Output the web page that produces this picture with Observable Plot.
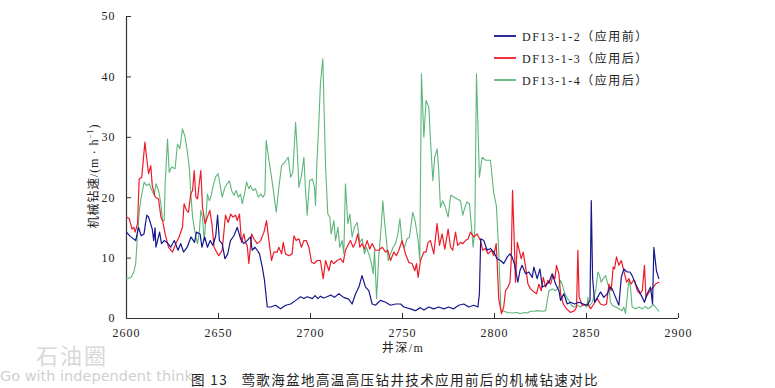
<!DOCTYPE html>
<html>
<head>
<meta charset="utf-8">
<script src="https://cdn.jsdelivr.net/npm/d3@7"></script>
<script src="https://cdn.jsdelivr.net/npm/@observablehq/plot@0.6"></script>
<style>
  html, body { margin: 0; padding: 0; background: #fff; }
  #wrap { position: relative; width: 775px; height: 388px; overflow: hidden; font-family: "Liberation Serif", serif; }
  #wrap svg { display: block; font-family: "Liberation Serif", serif !important; }
  #wrap svg text, #wrap svg g { font-family: "Liberation Serif", serif !important; }
  #wrap svg text { letter-spacing: 1px; fill: #222; }
  .ov { position: absolute; white-space: nowrap; }
  .leg { display: flex; align-items: center; }
</style>
</head>
<body>
<div id="wrap"></div>
<script>
// ---- Data ----
const xTicks = [2600, 2650, 2700, 2750, 2800, 2850, 2900];
const yTicks = [0, 10, 20, 30, 40, 50];
const seriesNames = ["DF13-1-2（应用前）", "DF13-1-3（应用后）", "DF13-1-4（应用后）"];
const seriesColors = ["#16168e", "#ec1c28", "#5cb67a"];

const blueDepth = [2600,2602,2605,2606.5,2608,2609.5,2611,2612,2614,2614.8,2615.5,2616,2618,2619,2620.5,2622,2624,2626,2628,2629.5,2631,2633,2635,2637,2638,2640,2641,2642.5,2644,2645.5,2647,2648.5,2649.5,2650.5,2652,2653.5,2655,2656.5,2658.4,2660.2,2662,2663.8,2665.6,2667.4,2668.3,2669.8,2671,2672.3,2673.8,2675,2676.5,2678.5,2681,2683.7,2686.5,2689.2,2692,2694.6,2696.4,2698.2,2701,2702.5,2704,2705.5,2707,2709,2711,2713,2715.4,2718,2720.8,2722.6,2724.5,2726.3,2728,2729.9,2731.7,2733.5,2735.3,2738,2740.8,2743.5,2746.2,2749,2750.7,2754.3,2757,2759.7,2761.6,2764.3,2767,2769.7,2772.4,2775.1,2777.8,2780.6,2783.3,2786,2788.7,2791,2791.8,2792.5,2794.2,2796,2797.8,2799.6,2801.4,2803.3,2805,2807,2808.4,2809.6,2811,2812.7,2813.8,2815,2816.9,2818.7,2820.5,2821.4,2823.2,2824.7,2826,2827.8,2829.6,2831.4,2833.2,2835,2835.9,2837.7,2839.5,2841.3,2843.5,2845.9,2848.2,2850.4,2851.9,2852.6,2853.3,2854.4,2856,2857.6,2859.4,2861.3,2862.7,2864,2865.8,2867.6,2868.9,2870.3,2872.1,2873.6,2874.8,2876.7,2878.5,2880.3,2881.5,2883,2884.8,2885.9,2886.6,2888,2889.3];
const blueRate = [14.3,13.6,12.9,15.1,13.7,14,17.1,16.8,14.8,12.9,15,11.8,14.3,12.4,12.9,12.6,11.8,12.9,11.3,12.4,11,11.8,13.5,12.6,14.3,14,11.8,13.5,11.8,12.9,12.1,13.7,17.1,12.9,12.4,9.9,10.7,12.9,13.7,15.1,13.2,12.4,12.9,13.5,11.3,11.8,11.3,10.7,8.5,6.3,1.9,1.9,2.2,1.6,2.2,2.4,3.0,3.6,3.3,3.6,3.3,3.8,3.3,3.7,3.4,3.6,3.9,3.5,4.1,3.5,3.2,2.4,4.1,5.2,7.1,5.2,4.6,2.4,2.2,3.0,2.7,2.2,2.4,2.4,1.9,1.6,1.3,1.8,1.4,1.9,1.6,1.9,1.6,1.9,1.6,2.2,2.4,1.9,2.2,1.9,4.1,13.2,12.9,11.3,11.6,11.0,9.9,9.6,9.1,10.2,10.7,10.2,8.8,6.0,7.9,8.8,7.4,7.7,6.8,8.5,6.6,8.2,5.2,5.5,6.0,7.4,5.7,4.6,3.0,4.1,2.4,2.7,2.4,2.7,2.4,2.2,3.0,19.5,6.8,2.7,3.5,4.4,3.5,4.1,5.2,4.9,3.5,2.2,6.8,8.2,7.7,7.7,7.1,5.7,4.6,3.5,2.7,4.1,5.2,2.4,11.8,7.9,6.6];

const redDepth = [2600,2601.5,2603,2604,2604.7,2606,2606.9,2608.3,2610,2610.9,2612,2613.2,2614,2615.6,2617.4,2618.7,2619.6,2621,2622.8,2625,2626.8,2628.6,2630.4,2631.3,2632.6,2633.7,2634.9,2635.9,2636.8,2637.7,2638.6,2639.5,2640.4,2641.3,2642.7,2644,2645.3,2646.4,2647.6,2649.5,2650.2,2652,2653.8,2655.3,2656.6,2657.8,2659.3,2660.2,2661.4,2662.5,2663.8,2664.7,2665.6,2666.5,2668,2669.2,2671,2672.9,2674.7,2676.1,2677.4,2678.8,2680.1,2681.9,2682.8,2684.3,2685.2,2686.4,2688.3,2690,2691,2692.2,2693.7,2695.1,2696.4,2697.7,2699.1,2700.6,2702,2703.6,2705.4,2706.9,2708.2,2710,2711.2,2712.7,2714.5,2716.3,2717.8,2719,2720.3,2721.7,2723.2,2724.5,2725.7,2726.8,2728.1,2729.3,2730.8,2732.2,2733.5,2735.3,2737.1,2739,2740.8,2742,2743.5,2745.3,2746.7,2748,2749.8,2751.6,2753.4,2755.2,2756.7,2757.6,2758.5,2759.8,2761.6,2762.8,2763.9,2765.2,2767,2768.8,2770.1,2771.5,2773,2774.8,2776.1,2777.3,2778.8,2780,2781.5,2782.8,2784.2,2785.7,2786.9,2788.7,2790.5,2792.4,2793.6,2795.1,2796.5,2798.4,2799.6,2800.9,2801.4,2802.3,2803.8,2805,2806,2807.3,2808.4,2809.1,2809.8,2810.5,2811.4,2812.4,2813.3,2814.5,2815.6,2816.9,2818.2,2819.6,2821.4,2822.9,2824.1,2825.4,2826.5,2827.8,2829,2830.5,2831.7,2832.8,2833.7,2835,2835.9,2837.4,2839.2,2841.3,2843.5,2844.6,2845.3,2846,2847.7,2849.5,2850.8,2852.2,2854,2855.8,2857.6,2859.4,2860.9,2862.2,2863.4,2864.5,2865.2,2866.3,2867.6,2868.9,2870.3,2871.8,2873,2874.3,2875.4,2876.1,2877.6,2879,2880.3,2881.5,2882.3,2883.4,2884.8,2886.3,2887.5,2889.3];
const redRate = [16.8,16.5,14.8,15.1,14.3,15.7,23.1,23.4,29.2,26.7,24,25.3,22,20.1,19.8,16.8,16.2,14,11.8,11,12.4,13.5,15.1,19,17.9,17.6,20.6,21.2,24.5,20.1,19.8,22.3,24.5,18.4,15.7,16.8,17.9,15.7,11.8,10.7,10.4,11.3,17.1,15.9,17.3,16.8,17.1,16.2,17.3,12.6,14,12.6,12.1,9.1,14,13.2,12.4,12.9,14.3,16.2,12.9,9.6,11,11,11.8,10.7,12.6,10.7,10.4,10.7,13.7,12.9,13.2,11.8,12.9,12.9,11.8,9.3,9.1,9.6,9.6,6.6,9.6,7.9,9.6,9.1,9.6,9.9,9.3,11.3,12.1,12.9,11.8,12.6,14,11.8,12.4,11.5,12.9,11.5,12.4,11.3,11.3,11.8,11,11.3,9.6,11,10.4,11.3,12.9,10.7,9.3,9.1,7.9,9.1,6.8,9.6,11,11,12.6,12.9,10.7,15.7,12.1,14,11.5,14.8,11.8,11.3,14.3,12.1,12.6,12.4,12.9,13.2,14.3,13.5,14,12.9,11.3,11.6,10.7,11.3,10.4,12.4,9.6,3.3,0.8,1.9,4.6,5.2,6,9.6,21.2,15.1,6,12.6,11.5,9.9,11,8.5,5.7,4.9,4.4,4.1,5.7,4.6,6.8,5.2,6.3,5.7,7.1,6.6,8.8,7.4,4.1,2.4,1.6,1.0,1.3,1.9,11.3,3.5,2.2,2.2,2.4,1.6,2.4,3.3,2.4,2.2,2.4,5.7,4.6,8.5,8.2,10.2,8.8,9.6,7.9,6,6.6,5.7,6.3,6.3,4.6,4.1,4.6,8.8,3.5,4.1,4.6,5.2,5.7,6];

const greenDepth = [2600,2602.4,2604,2605,2606,2607.2,2608.3,2609.6,2610.9,2612.3,2613.8,2615,2616,2617.4,2618.7,2619.6,2620.5,2621,2622.3,2623.2,2624.6,2626.4,2627.7,2629,2630.4,2631.9,2633.2,2634.1,2635,2635.9,2636.8,2637.7,2638.6,2639.5,2640.4,2641.3,2642.2,2643.1,2644,2645,2645.8,2647.1,2648.4,2649.8,2651.1,2652,2653.5,2654.7,2656,2657.1,2658.4,2659.6,2660.7,2662,2662.9,2664.3,2665.2,2666.5,2667.4,2668.7,2670.1,2671.6,2672.9,2674.1,2675.2,2675.9,2677.4,2678.8,2680.1,2681.4,2682.8,2684.3,2686.1,2687.9,2689.2,2690.4,2691.9,2692.8,2693.7,2695.1,2696.4,2697.3,2698.2,2699.5,2701,2702.2,2702.7,2703.6,2704.5,2705.4,2706.7,2707.6,2708.2,2709.4,2710.5,2711.2,2712.7,2713.6,2714.9,2715.9,2717.2,2718.1,2719,2720.3,2721.4,2722.6,2723.9,2725.4,2726.8,2728.1,2729.3,2730.4,2731.7,2733,2734.1,2734.8,2735.9,2737.1,2738.4,2739.3,2740.2,2741.3,2742.2,2743.5,2744.9,2746.2,2747.5,2748.6,2749.8,2751.1,2752.5,2753.8,2755.6,2757,2758.5,2759.4,2760.3,2761.6,2762.8,2764.3,2765.2,2766.5,2767.5,2768.8,2769.7,2770.6,2771.9,2773.3,2774.8,2776.2,2777.9,2779.7,2781.5,2782.8,2783.9,2785.1,2786.4,2787.5,2788.4,2789.3,2790.2,2791.8,2793.3,2795.1,2797.8,2799.6,2801,2802.2,2803.5,2805,2807,2809.6,2812.4,2814,2816,2817.8,2819.6,2821.4,2823.2,2826,2827.8,2828.7,2829.6,2831.4,2833.2,2835,2835.9,2836.8,2837.7,2839.2,2840.4,2841.7,2843.2,2845,2846.8,2848.6,2850.1,2850.8,2851.3,2853.1,2855,2856.2,2857.1,2858,2859.1,2860.4,2861.6,2862.2,2863,2864,2865.8,2867.6,2869.4,2870.3,2871.2,2872.1,2873,2873.9,2874.8,2876.7,2878.5,2880.3,2882.1,2883.4,2884.8,2886.3,2887.5,2889.3];
const greenRate = [6.6,6.8,7.7,9.1,14,18.4,20.6,22.6,22,22.3,21.2,20.4,22.3,21.2,19,16.2,16.2,22.3,29.7,24.2,25.1,24.8,28.9,28.1,31.4,30,27.3,25.1,20.6,16.8,15.1,13.5,12.4,14,17.9,16.8,12.9,16.2,20.6,19.5,20.1,22,23.4,24,21.7,20.1,21.7,22.3,22.8,21.2,20.4,21.2,20.1,20.6,19,20.9,22.6,21.5,22,21.2,21.5,20.1,20.6,20.1,20.6,29.5,26.2,23.4,20.6,17.6,21.7,25.3,25.9,26.7,23.4,24.2,32.5,27.8,21.7,23.7,26.7,21.2,17.1,22.8,23.1,21.7,18.7,26.7,32.2,38.9,43,32.2,25.1,17.3,16.8,14,16.2,12.9,15.1,11.8,12.9,10.7,22.3,15.7,17.3,13.5,15.1,15.9,12.6,13.2,10.7,11.8,10.7,9.3,7.4,11.3,3.3,10.2,15.1,19.5,16.2,12.9,9.6,10.7,11.8,12.4,14,16.5,12.4,11.8,13.2,13.5,17.6,15.9,12.9,9.6,40.5,30,36.1,35,29.5,22.8,26.7,28.1,24.5,18.4,19.5,18.4,16.8,20.4,20.1,19.8,19.5,17.1,18.4,19.3,19,15.1,11.8,14.6,40.5,23.4,26.7,26.2,26.2,20.7,18.7,11.8,1.3,1.2,1.0,0.9,1.0,0.8,1.0,0.9,1.2,1.2,1.3,1.2,1.3,3,4.6,4.9,4.6,5.2,6.3,5.7,4.6,3.5,3,2.2,1.9,2.2,1.9,2.4,1.9,3.5,1.9,2.7,4.6,7.7,7.1,6,6.6,7.1,5.7,5.2,2.7,2.2,1.9,1.6,1.3,1.9,0.8,3.5,6.3,5.2,1.9,1.6,1.9,1.6,2,1.6,1.9,2.3,1.9,1.2];

// ---- Build tables ----
const toRows = (ds, vs) => ds.map((d, i) => ({depth: d, rate: vs[i]}));
const blue = toRows(blueDepth, blueRate);
const red = toRows(redDepth, redRate);
const green = toRows(greenDepth, greenRate);

const xMin = xTicks[0], xMax = xTicks[xTicks.length - 1];
const yMin = yTicks[0], yMax = yTicks[yTicks.length - 1];

const chart = Plot.plot({
  width: 775,
  height: 388,
  marginLeft: 126,
  marginRight: 97,
  marginTop: 16,
  marginBottom: 70,
  style: {fontFamily: "'Liberation Serif', serif", fontSize: "12px", color: "#222", background: "#fff"},
  x: {type: "linear", domain: [xMin, xMax]},
  y: {type: "linear", domain: [yMin, yMax]},
  marks: [
    // axis lines
    Plot.ruleX([xMin], {y1: () => yMin, y2: () => yMax, stroke: "#333", strokeWidth: 1.2}),
    Plot.ruleY([yMin], {x1: () => xMin, x2: () => xMax, stroke: "#333", strokeWidth: 1.2}),
    // inward ticks + labels
    Plot.axisX({ticks: xTicks, tickSize: -5, tickPadding: 15, tickFormat: d => String(d), fontSize: 12, fontFamily: "Liberation Serif", label: null, stroke: "#333"}),
    Plot.axisY({ticks: yTicks, tickSize: -5, tickPadding: 16, fontSize: 12, fontFamily: "Liberation Serif", label: null, stroke: "#333"}),
    // series
    Plot.line(green, {x: "depth", y: "rate", stroke: seriesColors[2], strokeWidth: 1.1}),
    Plot.line(red, {x: "depth", y: "rate", stroke: seriesColors[1], strokeWidth: 1.2}),
    Plot.line(blue, {x: "depth", y: "rate", stroke: seriesColors[0], strokeWidth: 1.2})
  ]
});

const wrap = document.getElementById("wrap");
wrap.appendChild(chart);

// ---- Overlays: axis titles, legend, caption, watermark ----
function addDiv(html, css, cls) {
  const d = document.createElement("div");
  d.className = "ov" + (cls ? " " + cls : "");
  d.innerHTML = html;
  Object.assign(d.style, css);
  wrap.appendChild(d);
  return d;
}

// y title (rotated)
addDiv("机械钻速/(m · h<sup style='font-size:8px'>−1</sup>)", {
  left: "93px", top: "176px", transform: "translate(-50%,-50%) rotate(-90deg)",
  fontFamily: "'Liberation Serif','Noto Sans CJK SC',serif", fontSize: "12px", color: "#222", letterSpacing: "0.8px"
});
// x title
addDiv("井深/m", {
  left: "403px", top: "347px", transform: "translate(-50%,-50%)",
  fontFamily: "'Liberation Serif','Noto Sans CJK SC',serif", fontSize: "12px", color: "#222", letterSpacing: "1.5px"
});

// legend
const legendTop = [36, 58, 80];
seriesNames.forEach((name, i) => {
  addDiv(`<svg width="22" height="4" style="margin-right:6px;flex:none"><line x1="0" x2="22" y1="2" y2="2" stroke="${seriesColors[i]}" stroke-width="1.8"/></svg><span>${name}</span>`, {
    left: "494px", top: (legendTop[i] - 9) + "px", height: "18px",
    fontFamily: "'Liberation Serif','Noto Sans CJK SC',serif", fontSize: "12px", color: "#222", letterSpacing: "1.5px"
  }, "leg");
});

// watermark
addDiv("石油圈", {
  left: "36px", top: "338px", fontFamily: "'Noto Sans CJK SC',sans-serif", fontSize: "22px", color: "#d8d8d8", letterSpacing: "2px"
});
addDiv("Go with independent think", {
  left: "0px", top: "368px", fontFamily: "'DejaVu Sans',sans-serif", fontSize: "14.5px", color: "#d0d0d0"
});

// caption
addDiv("图 13&nbsp;&nbsp;&nbsp;莺歌海盆地高温高压钻井技术应用前后的机械钻速对比", {
  left: "191px", top: "369px", fontFamily: "'Noto Sans CJK SC',sans-serif", fontSize: "13.5px", color: "#222", letterSpacing: "1.4px"
});
</script>
</body>
</html>
